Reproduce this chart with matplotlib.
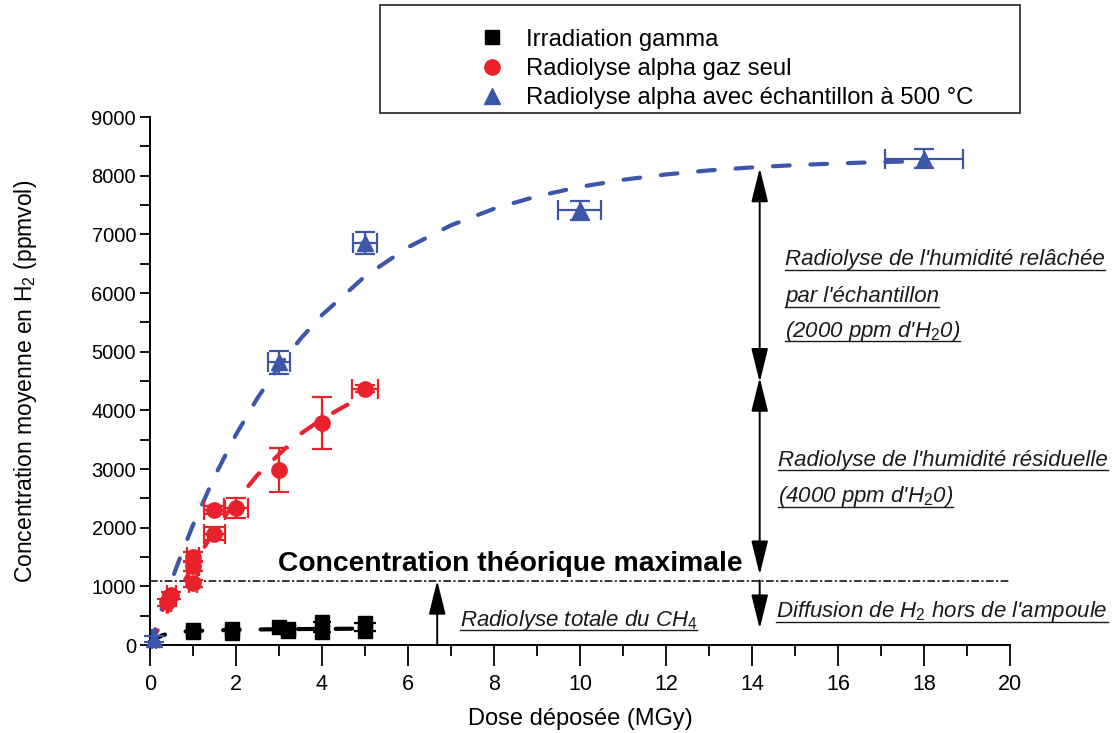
import matplotlib
matplotlib.use('Agg')
import matplotlib.pyplot as plt
from matplotlib.lines import Line2D
from matplotlib.patches import Rectangle
from matplotlib.ticker import MultipleLocator

plt.rcParams['font.family'] = ['Liberation Sans', 'DejaVu Sans']
plt.rcParams['mathtext.fontset'] = 'custom'
plt.rcParams['mathtext.rm'] = 'Liberation Sans'
plt.rcParams['mathtext.it'] = 'Liberation Sans:italic'
plt.rcParams['mathtext.bf'] = 'Liberation Sans:bold'

# ---------------- data ----------------
gamma_x = [1.0, 1.0, 1.9, 1.9, 3.0, 3.2, 3.2, 4.0, 4.0, 5.0, 5.0]
gamma_y = [230, 250, 280, 200, 310, 280, 240, 390, 230, 380, 240]
gamma_xerr = [0.1, 0.1, 0.1, 0.1, 0.15, 0.15, 0.15, 0.2, 0.2, 0.25, 0.25]

alpha_x = [0.4, 0.5, 1.0, 1.0, 1.0, 1.5, 1.5, 2.0, 3.0, 4.0, 5.0]
alpha_y = [730, 850, 1050, 1350, 1500, 1900, 2300, 2330, 2980, 3780, 4370]
alpha_xerr = [0.1, 0.1, 0.1, 0.15, 0.15, 0.25, 0.25, 0.27, 0.0, 0.0, 0.3]
alpha_yerr = [60, 60, 60, 80, 80, 110, 70, 170, 375, 440, 60]

sample_x = [0.1, 3.0, 5.0, 10.0, 18.0]
sample_y = [100, 4820, 6850, 7410, 8290]
sample_xerr = [0.05, 0.25, 0.27, 0.5, 0.9]
sample_yerr = [50, 200, 190, 160, 160]

# fitted trend curves
gamma_fit_x = [0, 0.3, 0.6, 1, 2, 3, 4, 5]
gamma_fit_y = [60, 170, 220, 240, 260, 270, 275, 280]
alpha_fit_x = [0, 0.5, 1, 1.5, 2, 2.5, 3, 3.5, 4, 4.5, 5]
alpha_fit_y = [0, 700, 1350, 1950, 2450, 2900, 3250, 3600, 3850, 4060, 4250]
sample_fit_x = [0, 0.25, 0.5, 0.75, 1, 1.5, 2, 2.5, 3, 3.5, 4, 5, 6, 7, 8, 9,
                10, 11, 12, 13, 14, 15, 16, 17, 18]
sample_fit_y = [0, 567, 1095, 1586, 2046, 2870, 3587, 4210, 4750, 5219, 5625,
                6285, 6780, 7155, 7437, 7650, 7810, 7931, 8022, 8091, 8142,
                8181, 8210, 8233, 8249]

c_max = 1100
labels = ['Irradiation gamma', 'Radiolyse alpha gaz seul',
          'Radiolyse alpha avec échantillon à 500 °C']

RED = '#E8212B'
BLUE = '#3C57A9'
BLACK = '#000000'
TXT = '#1a1a1a'

fig = plt.figure(figsize=(11.15, 7.33), dpi=100)
ax = fig.add_axes([0.1345, 0.12, 0.7713, 0.7203])
ax.set_xlim(0, 20)
ax.set_ylim(0, 9000)

for s in ['top', 'right']:
    ax.spines[s].set_visible(False)
for s in ['left', 'bottom']:
    ax.spines[s].set_linewidth(1.4)

ax.xaxis.set_major_locator(MultipleLocator(2))
ax.xaxis.set_minor_locator(MultipleLocator(1))
ax.yaxis.set_major_locator(MultipleLocator(1000))
ax.yaxis.set_minor_locator(MultipleLocator(500))
ax.tick_params(axis='x', which='major', length=15, width=1.3, labelsize=15.5, pad=6)
ax.tick_params(axis='x', which='minor', length=8, width=1.3)
ax.tick_params(axis='y', which='both', length=7, width=1.3, labelsize=14.5, pad=3)
ax.set_xlabel('Dose déposée (MGy)', fontsize=17, labelpad=9)
ax.set_ylabel('Concentration moyenne en H$_2$ (ppmvol)', fontsize=16.5, labelpad=38)

# fitted curves
ax.plot(sample_fit_x, sample_fit_y, color=BLUE, lw=3, dashes=(4, 5),
        dash_capstyle='round', zorder=2, clip_on=False)
ax.plot(alpha_fit_x, alpha_fit_y, color=RED, lw=3, dashes=(4, 5),
        dash_capstyle='round', zorder=2, clip_on=False)
ax.plot(gamma_fit_x, gamma_fit_y, color=BLACK, lw=3, dashes=(4, 5),
        dash_capstyle='round', zorder=2, clip_on=False)

ekw = dict(linestyle='none', capsize=7, elinewidth=1.6, capthick=1.6, zorder=3, clip_on=False)
ax.errorbar(gamma_x, gamma_y, xerr=gamma_xerr, marker='s', ms=10,
            color=BLACK, linestyle='none', elinewidth=1.6, capsize=0, zorder=3)
ax.errorbar(alpha_x, alpha_y, xerr=alpha_xerr, yerr=alpha_yerr, marker='o', ms=11,
            color=RED, **ekw)
ax.errorbar(sample_x, sample_y, xerr=sample_xerr, yerr=sample_yerr, marker='^', ms=12,
            color=BLUE, **ekw)

# theoretical max line
ax.plot([0, 20], [c_max, c_max], color=BLACK, lw=1.1, dashes=(5, 1.6, 1.4, 1.6), zorder=1)
ax.text(2.98, 1260, 'Concentration théorique maximale', fontsize=20.3,
        fontweight='bold', va='baseline', ha='left', color=BLACK)

# arrows
def arrow(x, y0, y1, style='-|>'):
    ax.annotate('', xy=(x, y1), xytext=(x, y0),
                arrowprops=dict(arrowstyle=style + ',head_length=2.1,head_width=0.52',
                                mutation_scale=10, lw=1.4, color=BLACK,
                                shrinkA=0, shrinkB=0), zorder=4)

arrow(6.68, 0, c_max)
arrow(14.18, 4480, 8130, '<|-|>')
arrow(14.18, 1200, 4560, '<|-|>')
arrow(14.18, c_max, 280)

# annotations (italic, underlined)
FS = 16
notes = [
    (7.2, 324, "Radiolyse totale du CH$_4$"),
    (14.77, 6477, "Radiolyse de l'humidité relâchée"),
    (14.77, 5846, "par l'échantillon"),
    (14.77, 5250, "(2000 ppm d'H$_2$0)"),
    (14.6, 3051, "Radiolyse de l'humidité résiduelle"),
    (14.6, 2437, "(4000 ppm d'H$_2$0)"),
    (14.56, 477, "Diffusion de H$_2$ hors de l'ampoule"),
]
texts = []
for x, y, s in notes:
    t = ax.text(x, y, s, fontsize=FS, style='italic', color=TXT,
                va='baseline', ha='left', zorder=5)
    texts.append((t, x, y))

# legend
handles = [
    Line2D([], [], marker='s', color=BLACK, ls='none', ms=10),
    Line2D([], [], marker='o', color=RED, ls='none', ms=11),
    Line2D([], [], marker='^', color=BLUE, ls='none', ms=12),
]
LFS = 17.2
lfs_px = LFS * 100 / 72
hl = 1.2
handle_start = 480 - hl * lfs_px / 2
htp = (527 - 493 - hl * lfs_px / 2) / lfs_px
x_anchor = (handle_start - 0.4 * lfs_px) / 1115
fig.legend(handles, labels, loc='center left', bbox_to_anchor=(x_anchor, 1 - 69 / 733),
           frameon=False, fontsize=LFS, handlelength=hl, handletextpad=htp,
           labelspacing=0.3, borderpad=0.4)
fig.patches.append(Rectangle((0.3408, 0.8458), 0.574, 0.1473, transform=fig.transFigure,
                             fill=False, edgecolor='#222222', lw=1.2))

# underline annotations
fig.canvas.draw()
r = fig.canvas.get_renderer()
for t, x, y in texts:
    bb = t.get_window_extent(r)
    _, yb = ax.transData.transform((x, y))
    yu = yb - 0.2 * FS * fig.dpi / 72
    p0 = fig.transFigure.inverted().transform((bb.x0, yu))
    p1 = fig.transFigure.inverted().transform((bb.x1, yu))
    fig.lines.append(Line2D([p0[0], p1[0]], [p0[1], p1[1]], transform=fig.transFigure,
                            color=TXT, lw=1.0))

fig.savefig('out.png', dpi=100)
